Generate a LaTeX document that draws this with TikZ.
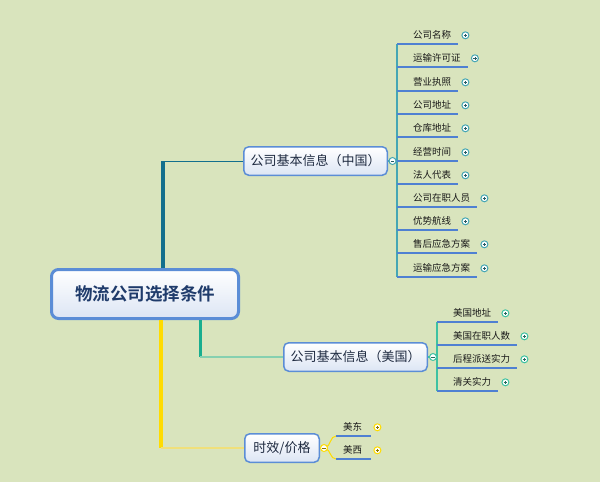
\documentclass[tikz,border=0pt]{standalone}
\usepackage{fontspec}
\setmainfont{Noto Sans CJK SC}[BoldFont={Noto Sans CJK SC Bold}]
\usepackage{xcolor}
\definecolor{mapBack}{HTML}{D9E4BD}
\definecolor{mapBorder}{HTML}{5B8DD6}
\definecolor{mapFill}{HTML}{DCE5F4}
\definecolor{mapRootText}{HTML}{1F3B6B}
\definecolor{mapText}{HTML}{1E2A40}
\definecolor{branchCN}{HTML}{136F8D}
\definecolor{branchUS}{HTML}{19AE8F}
\definecolor{branchUSthin}{HTML}{86D0B0}
\definecolor{branchTM}{HTML}{FFDC00}
\definecolor{branchTMthin}{HTML}{F0E07A}
\definecolor{hubCNline}{HTML}{45A6B4}
\definecolor{hubUSline}{HTML}{3EC2A2}
\definecolor{leafBlue}{HTML}{4F80D2}

\begin{document}
\begin{tikzpicture}[x=1pt, y=-1pt,
  rootbox/.style={draw=mapBorder, line width=3pt, rounded corners=7pt, top color=white, bottom color=mapFill,
    minimum width=187pt, minimum height=49pt, text=mapRootText, font=\fontsize{17.5pt}{20pt}\selectfont\bfseries},
  topicbox/.style={draw=mapBorder, line width=1.5pt, rounded corners=5pt, top color=white, bottom color=mapFill,
    minimum height=28.5pt, inner xsep=0pt, text=mapText, font=\fontsize{13pt}{15pt}\selectfont},
  leaf/.style={anchor=south west, inner sep=0pt, text height=8pt, text depth=5pt, text=black!90,
    font=\fontsize{9.5pt}{11pt}\selectfont},
  underline/.style={leafBlue, line width=2.5pt},
  expand/.style={circle, draw=#1, fill=white, line width=1pt, minimum size=7pt, inner sep=0pt,
    path picture={\draw[#1!55!black, line width=0.7pt]
      ([xshift=-1.8pt]path picture bounding box.center) -- ([xshift=1.8pt]path picture bounding box.center)
      ([yshift=-1.8pt]path picture bounding box.center) -- ([yshift=1.8pt]path picture bounding box.center);}},
  collapse/.style={circle, draw=#1, fill=white, line width=1pt, minimum size=7pt, inner sep=0pt,
    path picture={\draw[#1!55!black, line width=0.7pt]
      ([xshift=-1.8pt]path picture bounding box.center) -- ([xshift=1.8pt]path picture bounding box.center);}},
]
  \fill[mapBack] (0,0) rectangle (600,482);

  % main topics
  \node[rootbox] (root) at (145,294) {物流公司选择条件};
  \node[topicbox, minimum width=143.5pt] (china) at (315.5,161) {公司基本信息（中国）};
  \node[topicbox, minimum width=143.5pt] (usa) at (355.5,357) {公司基本信息（美国）};
  \node[topicbox, minimum width=74.5pt] (time) at (282,448) {时效/价格};

  % root branches
  \coordinate (elbowCN) at (163,161);
  \coordinate (elbowUS) at (200,357);
  \coordinate (elbowTM) at (161,448);
  \draw[branchCN, line width=4pt] (root.north -| elbowCN) -- (elbowCN);
  \draw[branchCN, line width=1pt] (elbowCN) -- (china.west);
  \draw[branchUS, line width=3pt] (root.south -| elbowUS) -- (elbowUS);
  \draw[branchUSthin, line width=1.5pt] (elbowUS) -- (usa.west);
  \draw[branchTM, line width=4pt] (root.south -| elbowTM) -- (elbowTM);
  \draw[branchTMthin, line width=1.5pt] (elbowTM) -- (time.west);

  % china leaves
  \node[leaf] (c1) at (413,44) {公司名称};
  \node[leaf] (c2) at (413,67) {运输许可证};
  \node[leaf] (c3) at (413,91) {营业执照};
  \node[leaf] (c4) at (413,114) {公司地址};
  \node[leaf] (c5) at (413,137) {仓库地址};
  \node[leaf] (c6) at (413,161) {经营时间};
  \node[leaf] (c7) at (413,184) {法人代表};
  \node[leaf] (c8) at (413,207) {公司在职人员};
  \node[leaf] (c9) at (413,230) {优势航线};
  \node[leaf] (c10) at (413,253) {售后应急方案};
  \node[leaf] (c11) at (413,277) {运输应急方案};
  \coordinate (hubCN) at (397,161);
  \draw[hubCNline, line width=1.2pt] (china.east) -- (hubCN);
  \draw[hubCNline, line width=1.2pt] (hubCN |- c1.south) -- (hubCN |- c11.south);
  \foreach \n in {c1,c2,c3,c4,c5,c6,c7,c8,c9,c10,c11} {
    \draw[underline] (hubCN |- \n.south) -- ([xshift=7pt]\n.south east);
    \node[expand=hubCNline] (\n plus) at ([shift={(14pt,3.5pt)}]\n.base east) {};
  }
  \node[collapse=hubCNline] (foldCN) at (392.5,161) {};

  % usa leaves
  \node[leaf] (u1) at (453,322) {美国地址};
  \node[leaf] (u2) at (453,345) {美国在职人数};
  \node[leaf] (u3) at (453,368) {后程派送实力};
  \node[leaf] (u4) at (453,391) {清关实力};
  \coordinate (hubUS) at (437,357);
  \draw[hubUSline, line width=1.2pt] (usa.east) -- (hubUS);
  \draw[hubUSline, line width=1.2pt] (hubUS |- u1.south) -- (hubUS |- u4.south);
  \foreach \n in {u1,u2,u3,u4} {
    \draw[underline] (hubUS |- \n.south) -- ([xshift=7pt]\n.south east);
    \node[expand=hubUSline] (\n plus) at ([shift={(14pt,3.5pt)}]\n.base east) {};
  }
  \node[collapse=hubUSline] (foldUS) at (433,357) {};

  % time leaves
  \node[leaf] (t1) at (343,436) {美东};
  \node[leaf] (t2) at (343,459) {美西};
  \coordinate (hubTM) at (325,448);
  \coordinate (startT1) at (336,436);
  \coordinate (startT2) at (336,459);
  \draw[branchTM, line width=1pt] (hubTM) .. controls (331,446) and (330,436) .. (startT1);
  \draw[branchTM, line width=1pt] (hubTM) .. controls (331,450) and (330,459) .. (startT2);
  \draw[underline] (startT1) -- ([xshift=9pt]t1.south east);
  \draw[underline] (startT2) -- ([xshift=9pt]t2.south east);
  \node[expand=branchTM] (t1plus) at ([shift={(15pt,3.5pt)}]t1.base east) {};
  \node[expand=branchTM] (t2plus) at ([shift={(15pt,3.5pt)}]t2.base east) {};
  \node[collapse=branchTM] (foldTM) at (324,448) {};
\end{tikzpicture}
\end{document}
